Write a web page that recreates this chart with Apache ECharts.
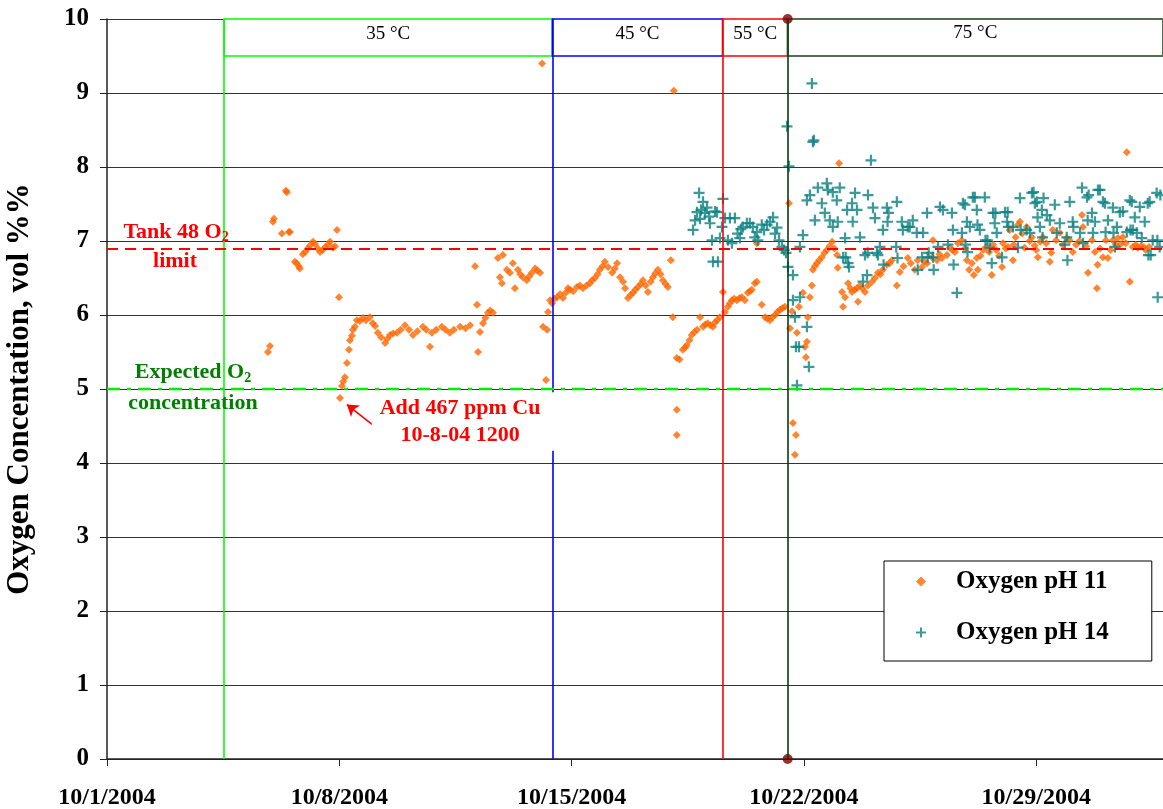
<!DOCTYPE html>
<html><head><meta charset="utf-8">
<script src="https://cdn.jsdelivr.net/npm/echarts@6/dist/echarts.min.js"></script>
<style>html,body{margin:0;padding:0;background:#fff}#c{width:1163px;height:809px}</style>
</head><body><div id="c"></div><script>
// ---- data (x = days since 10/1/2004 00:00, y = vol %) ----
const xTickLabels = ['10/1/2004','10/8/2004','10/15/2004','10/22/2004','10/29/2004'];
const xMaxDay = 31.82;
const phaseLabels = ['35 °C','45 °C','55 °C','75 °C'];
const phaseBounds = [3.53, 13.42, 18.55, 20.51, 31.82];
const tankLimit = 6.9;
const expectedO2 = 5.0;
const cuAddArrow = [[8.19, 4.45], [7.23, 4.79]];

const oxygenPH11 = [
[4.85,5.50],[4.91,5.58],[5.00,7.26],[5.03,7.30],[5.27,7.10],[5.39,7.68],[5.42,7.66],[5.48,7.12],[5.51,7.12],[5.66,6.72],[5.72,6.70],[5.78,6.66],[5.81,6.63],[5.90,6.82],[5.97,6.85],[6.05,6.90],[6.12,6.94],[6.21,6.99],[6.27,6.96],[6.35,6.90],[6.42,6.85],[6.50,6.88],[6.58,6.92],[6.66,6.95],[6.72,6.99],[6.81,6.91],[6.87,6.93],[6.93,7.15],[6.99,6.24],
[7.02,4.88],[7.08,5.04],[7.12,5.10],[7.17,5.16],[7.23,5.35],[7.29,5.53],[7.32,5.66],[7.38,5.72],[7.41,5.80],[7.47,5.84],[7.53,5.93],[7.62,5.92],[7.71,5.96],[7.80,5.93],[7.92,5.97],[8.01,5.89],[8.08,5.85],[8.16,5.76],[8.26,5.70],[8.38,5.62],[8.45,5.68],[8.53,5.73],[8.62,5.75],[8.74,5.76],[8.85,5.80],[8.98,5.86],[9.10,5.80],[9.22,5.73],[9.35,5.78],[9.52,5.84],[9.62,5.80],[9.73,5.57],[9.79,5.76],[9.92,5.80],[10.09,5.84],[10.20,5.80],[10.33,5.76],[10.45,5.80],[10.64,5.84],[10.80,5.82],[10.94,5.86],
[11.09,6.66],[11.15,6.14],[11.18,5.50],[11.24,5.77],[11.33,5.89],[11.40,5.96],[11.48,6.03],[11.55,6.06],[11.63,6.03],[11.78,6.77],[11.84,6.51],[11.90,6.43],[11.93,6.81],[12.05,6.61],[12.14,6.57],[12.23,6.70],[12.29,6.36],[12.38,6.61],[12.45,6.55],[12.53,6.51],[12.65,6.47],[12.72,6.52],[12.80,6.57],[12.90,6.63],[12.97,6.60],[13.05,6.57],[13.11,9.40],[13.14,5.84],[13.23,5.12],[13.26,5.80],[13.29,6.04],[13.35,6.20],[13.41,6.16],[13.48,6.22],[13.56,6.24],[13.65,6.28],[13.74,6.23],[13.82,6.30],[13.89,6.36],[13.95,6.34],
[14.05,6.32],[14.16,6.38],[14.25,6.40],[14.34,6.36],[14.45,6.40],[14.55,6.43],[14.62,6.47],[14.70,6.50],[14.78,6.55],[14.85,6.61],[14.93,6.66],[15.00,6.72],[15.10,6.65],[15.22,6.57],[15.30,6.63],[15.37,6.70],[15.46,6.51],[15.55,6.45],[15.61,6.36],[15.70,6.23],[15.78,6.27],[15.85,6.30],[15.92,6.34],[16.00,6.38],[16.08,6.42],[16.15,6.47],[16.23,6.40],[16.30,6.31],[16.38,6.45],[16.45,6.51],[16.52,6.56],[16.60,6.61],[16.68,6.55],[16.75,6.47],[16.83,6.42],[16.90,6.38],[16.99,6.74],[17.05,5.97],[17.08,9.03],
[17.17,5.42],[17.17,4.72],[17.17,4.38],[17.25,5.40],[17.35,5.53],[17.42,5.56],[17.47,5.59],[17.55,5.66],[17.62,5.73],[17.70,5.77],[17.78,5.80],[17.87,5.97],[17.96,5.84],[18.03,5.87],[18.10,5.89],[18.18,5.86],[18.26,5.84],[18.32,5.90],[18.38,5.93],[18.47,5.97],[18.56,6.31],[18.62,6.04],[18.71,6.11],[18.77,6.16],[18.83,6.20],[18.90,6.22],[18.98,6.20],[19.06,6.23],[19.13,6.24],[19.22,6.20],[19.31,6.30],[19.37,6.32],[19.43,6.34],[19.52,6.43],[19.58,6.45],[19.58,6.97],[19.73,6.14],[19.83,5.97],[19.90,5.95],[19.98,5.93],[20.05,5.97],[20.13,6.00],[20.20,6.04],[20.28,6.07],[20.35,6.09],[20.43,6.11],
[20.55,7.51],[20.58,5.82],[20.64,6.05],[20.67,4.54],[20.73,4.11],[20.76,4.38],[20.79,5.76],[20.85,6.11],[20.97,6.30],[21.03,5.57],[21.06,5.43],[21.09,5.64],[21.12,5.97],[21.18,6.24],[21.24,6.40],[21.27,6.61],[21.33,6.66],[21.39,6.70],[21.46,6.74],[21.54,6.78],[21.62,6.84],[21.69,6.88],[21.77,6.93],[21.85,6.99],[21.92,6.90],[22.00,6.81],[22.02,6.64],[22.06,8.05],[22.15,6.31],[22.18,6.11],[22.24,6.24],[22.33,6.43],[22.40,6.36],[22.45,6.31],[22.53,6.34],[22.60,6.36],[22.63,6.18],[22.69,6.40],[22.76,6.36],[22.84,6.31],[22.93,6.40],
[23.05,6.45],[23.14,6.50],[23.23,6.57],[23.30,6.55],[23.38,6.61],[23.50,6.68],[23.58,6.70],[23.65,6.74],[23.80,6.40],[23.89,6.58],[24.00,6.66],[24.13,6.77],[24.22,6.70],[24.34,6.61],[24.43,6.74],[24.56,6.65],[24.63,6.72],[24.71,6.70],[24.86,6.78],[24.89,7.01],[25.01,6.74],[25.08,6.82],[25.16,6.77],[25.31,6.81],[25.40,6.91],[25.48,6.88],[25.55,6.85],[25.64,6.97],[25.76,7.01],[25.85,6.90],[25.91,6.74],[25.98,6.61],[26.06,6.70],[26.12,6.54],[26.21,6.77],[26.24,6.61],[26.32,6.80],[26.40,6.88],[26.50,6.92],[26.58,6.85],[26.66,6.54],[26.70,6.95],[26.80,6.88],[26.88,6.80],[26.97,6.65],
[27.00,6.97],[27.08,6.90],[27.15,6.92],[27.20,7.15],[27.30,6.74],[27.32,6.95],[27.38,7.05],[27.45,7.22],[27.51,7.26],[27.58,7.10],[27.65,6.91],[27.71,7.19],[27.80,7.00],[27.87,7.05],[27.95,6.94],[28.00,6.88],[28.05,6.78],[28.12,6.99],[28.20,7.05],[28.30,6.97],[28.41,6.72],[28.45,6.84],[28.50,7.15],[28.60,7.01],[28.71,7.11],[28.80,6.95],[28.92,7.04],[29.00,7.01],[29.10,6.85],[29.20,6.95],[29.30,7.00],[29.38,7.35],[29.41,7.19],[29.50,6.93],[29.56,6.57],[29.68,7.01],[29.77,6.85],[29.83,6.36],[29.85,6.68],[29.92,6.90],
[30.01,6.78],[30.10,7.01],[30.16,6.77],[30.24,6.88],[30.31,7.01],[30.40,6.95],[30.46,7.04],[30.55,6.96],[30.61,7.05],[30.70,6.97],[30.73,8.20],[30.82,6.45],[30.91,6.92],[31.00,6.95],[31.06,6.91],[31.15,6.93],[31.24,6.92],[31.30,6.88],[31.40,6.92]
];

const oxygenPH14 = [
[17.66,7.15],[17.72,7.28],[17.78,7.39],[17.84,7.65],[17.87,7.30],[17.90,7.42],[17.96,7.53],[18.02,7.38],[18.08,7.45],[18.14,7.33],[18.17,7.24],[18.23,7.01],[18.26,6.72],[18.32,7.40],[18.38,7.39],[18.41,6.72],[18.47,7.04],[18.53,7.19],[18.56,7.57],[18.62,7.31],[18.71,7.01],[18.77,7.31],[18.83,6.97],[18.92,7.31],[19.00,7.10],[19.07,7.04],[19.10,7.16],[19.16,7.19],[19.28,7.24],[19.37,7.24],[19.46,7.19],[19.52,7.05],[19.58,7.12],[19.61,7.01],[19.73,7.22],[19.80,7.15],[19.89,7.22],[19.98,7.26],[20.07,7.32],[20.13,7.10],[20.19,7.18],[20.25,7.01],[20.34,6.92],[20.40,6.88],[20.46,6.84],
[20.49,8.55],[20.52,6.65],[20.55,8.01],[20.67,6.54],[20.67,6.20],[20.73,5.97],[20.76,5.57],[20.79,5.05],[20.85,5.57],[20.88,6.24],[20.88,6.92],[20.97,7.08],[21.09,5.84],[21.09,7.55],[21.15,5.30],[21.18,7.62],[21.24,9.13],[21.27,8.34],[21.30,8.36],[21.33,7.28],[21.42,7.72],[21.54,7.51],[21.63,7.38],[21.69,7.78],[21.72,7.69],[21.78,7.28],[21.87,7.66],[21.87,7.19],[21.99,7.55],[22.02,7.26],[22.08,7.72],[22.18,6.78],[22.24,7.04],[22.26,6.78],[22.30,7.42],[22.33,6.70],[22.36,6.65],[22.45,7.51],[22.47,7.26],[22.54,7.65],[22.60,7.42],[22.69,7.05],[22.78,6.45],[22.84,6.81],[22.90,6.54],[22.92,6.84],[22.93,7.62],
[23.02,8.09],[23.08,7.45],[23.14,7.31],[23.20,6.84],[23.23,6.81],[23.29,6.92],[23.38,7.15],[23.40,6.68],[23.50,7.45],[23.52,7.26],[23.55,7.38],[23.80,7.53],[23.78,6.92],[23.82,6.77],[23.95,7.26],[23.98,7.15],[24.13,7.19],[24.19,7.19],[24.28,7.28],[24.40,7.11],[24.43,6.61],[24.56,6.78],[24.59,7.11],[24.71,7.38],[24.73,6.78],[24.76,6.84],[24.89,6.78],[24.91,6.61],[25.04,6.92],[25.10,7.46],[25.19,7.42],[25.34,6.95],[25.46,7.38],[25.49,7.15],[25.51,6.68],[25.61,6.30],[25.76,7.11],[25.79,7.51],[25.85,7.49],[25.87,6.95],[25.91,7.26],[25.93,6.85],
[26.00,7.19],[26.09,7.59],[26.15,7.59],[26.21,7.42],[26.23,7.22],[26.30,7.15],[26.45,7.59],[26.47,7.01],[26.53,7.01],[26.60,6.91],[26.66,6.70],[26.70,7.38],[26.77,7.38],[26.75,7.24],[26.81,7.11],[26.97,6.78],[27.06,7.39],[27.14,7.39],[27.12,7.26],[27.16,7.19],[27.30,7.19],[27.45,6.91],[27.51,7.58],[27.53,7.15],[27.71,7.15],[27.81,7.11],[27.87,7.65],[27.92,7.66],[27.96,7.51],[28.02,7.53],[28.04,7.32],[28.11,7.19],[28.17,7.42],[28.19,7.05],[28.22,7.58],[28.32,7.35],[28.41,7.28],[28.56,7.49],[28.62,7.11],[28.71,7.24],[28.86,6.95],[28.92,7.05],[28.94,6.74],
[29.01,7.53],[29.10,7.26],[29.12,7.19],[29.32,7.11],[29.38,7.72],[29.41,6.97],[29.53,7.59],[29.55,7.28],[29.58,7.62],[29.68,7.38],[29.71,7.11],[29.77,7.26],[29.86,7.69],[29.92,7.69],[30.01,7.53],[30.07,7.51],[30.09,7.12],[30.16,7.28],[30.31,7.45],[30.33,7.11],[30.37,6.92],[30.43,7.19],[30.52,7.39],[30.61,7.40],[30.73,7.12],[30.82,7.55],[30.84,7.15],[30.88,7.53],[30.91,7.15],[30.97,7.32],[31.03,7.11],[31.12,7.46],[31.18,7.04],[31.27,7.26],[31.36,7.51],[31.38,6.81],[31.42,7.53],[31.45,6.81],[31.51,7.01],[31.63,7.65],[31.65,7.01],[31.66,6.24],[31.72,6.92],[31.74,7.62]
];

// ---- styling ----
const FONT = 'Liberation Serif';
const phaseColors = ['#00ff00', '#0000ff', '#ff0000', '#0b3d0b'];
const phaseBoxBorders = ['#00ff00', '#0000ff', '#ff0000', '#4f6f4f'];
const plusPath = 'path://M4,0H6V4H10V6H6V10H4V6H0V4H4Z';

const chart = echarts.init(document.getElementById('c'), null, {renderer: 'canvas'});

const option = {
  animation: false,
  backgroundColor: '#fff',
  grid: {left: 107, right: 0, top: 19, bottom: 50, containLabel: false, outerBoundsMode: 'none'},
  xAxis: {
    type: 'value', min: 0, max: xMaxDay, interval: 7,
    axisLine: {show: true, lineStyle: {color: '#222', width: 1.5}},
    axisTick: {show: true, length: 7, lineStyle: {color: '#222'}},
    splitLine: {show: false},
    axisLabel: {
      margin: 27, showMaxLabel: false,
      color: '#000', fontFamily: FONT, fontWeight: 'bold', fontSize: 24,
      formatter: v => { const i = Math.round(v / 7); return (Math.abs(v - i * 7) < 1e-6 && xTickLabels[i]) ? xTickLabels[i] : ''; }
    }
  },
  yAxis: {
    type: 'value', min: 0, max: 10, interval: 1,
    name: 'Oxygen Concentation, vol %%', nameLocation: 'middle', nameGap: 72, nameRotate: 90,
    nameTextStyle: {color: '#000', fontFamily: FONT, fontWeight: 'bold', fontSize: 31},
    axisLine: {show: true, lineStyle: {color: '#222', width: 1.5}},
    axisTick: {show: true, length: 7, lineStyle: {color: '#222'}},
    splitLine: {show: true, lineStyle: {color: '#333', width: 1}},
    axisLabel: {margin: 18, color: '#000', fontFamily: FONT, fontWeight: 'bold', fontSize: 25}
  },
  legend: {
    orient: 'vertical', left: 884, top: 561,
    backgroundColor: '#fff', borderColor: '#000', borderWidth: 1,
    padding: [8, 43, 16, 32], itemGap: 26, itemWidth: 10, itemHeight: 10,
    textStyle: {color: '#000', fontFamily: FONT, fontWeight: 'bold', fontSize: 25, padding: [0, 0, 0, 25]},
    data: [{name: 'Oxygen pH 11', icon: 'diamond'}, {name: 'Oxygen pH 14', icon: plusPath}]
  },
  series: [
    {
      name: 'refs', type: 'scatter', silent: true, clip: false, z: 1,
      data: [[phaseBounds[3], 0], [phaseBounds[3], 10]],
      symbol: 'circle', symbolSize: 10, itemStyle: {color: '#800000'},
      markArea: {
        silent: true,
        label: {show: true, position: 'insideTop', distance: 6, color: '#000', fontFamily: FONT, fontSize: 19},
        data: phaseLabels.map((lab, i) => [
          {name: lab, xAxis: phaseBounds[i], yAxis: 9.5, itemStyle: {color: '#fff', borderColor: phaseBoxBorders[i], borderWidth: i === 3 ? 2 : 1.5}},
          {xAxis: phaseBounds[i + 1], yAxis: 10}
        ])
      },
      markLine: {
        silent: true, symbol: 'none', label: {show: false},
        data: [
          ...phaseBounds.slice(0, 4).map((b, i) => ({xAxis: b, lineStyle: {color: phaseColors[i], width: 1.6, type: 'solid'}})),
          {yAxis: tankLimit, lineStyle: {color: '#ff0000', width: 2, type: [11, 7]}},
          {yAxis: expectedO2, lineStyle: {color: '#00ee00', width: 2.4, type: [13, 7, 4, 7]}},
          [
            {coord: cuAddArrow[0], symbol: 'none', lineStyle: {color: '#ff0000', width: 1.6, type: 'solid'}},
            {coord: cuAddArrow[1], symbol: 'arrow', symbolSize: 11}
          ]
        ]
      }
    },
    {
      name: 'Oxygen pH 11', type: 'scatter', z: 3,
      data: oxygenPH11, symbol: 'diamond', symbolSize: 8,
      itemStyle: {color: '#ff6600'}
    },
    {
      name: 'Oxygen pH 14', type: 'scatter', z: 4,
      data: oxygenPH14, symbol: plusPath, symbolSize: 11,
      itemStyle: {color: '#0a7f7f'}
    }
  ]
};
chart.setOption(option);

// ---- annotations, positioned through the chart's own scales ----
const P = (d, v) => chart.convertToPixel({xAxisIndex: 0, yAxisIndex: 0}, [d, v]);
const boxTL = P(7.98, 4.97), boxBR = P(13.56, 4.18);
const cu1 = P(10.64, 4.74), cu2 = P(10.64, 4.38);
const tank1 = P(2.08, 7.12), tank2 = P(2.05, 6.72);
const exp1 = P(2.59, 5.22), exp2 = P(2.59, 4.80);
const bold = sz => 'bold ' + sz + 'px "' + FONT + '"';
const subRich = (color) => ({
  a: {fontFamily: FONT, fontWeight: 'bold', fontSize: 22, fill: color, color: color, lineHeight: 25},
  s: {fontFamily: FONT, fontWeight: 'bold', fontSize: 14, fill: color, color: color, lineHeight: 25, verticalAlign: 'bottom', padding: [10, 0, 0, 0]}
});
chart.setOption({
  graphic: [
    {type: 'rect', z: 100, silent: true, shape: {x: boxTL[0], y: boxTL[1] + 1, width: boxBR[0] - boxTL[0], height: boxBR[1] - boxTL[1]}, style: {fill: '#fff'}},
    {type: 'text', z: 101, silent: true, x: cu1[0], y: cu1[1], style: {text: 'Add 467 ppm Cu', font: bold(22), fill: '#ff0000', align: 'center', verticalAlign: 'middle'}},
    {type: 'text', z: 101, silent: true, x: cu2[0], y: cu2[1], style: {text: '10-8-04 1200', font: bold(22), fill: '#ff0000', align: 'center', verticalAlign: 'middle'}},
    {type: 'text', z: 101, silent: true, x: tank1[0], y: tank1[1], style: {text: '{a|Tank 48 O}{s|2}', rich: subRich('#ff0000'), align: 'center', verticalAlign: 'middle'}},
    {type: 'text', z: 101, silent: true, x: tank2[0], y: tank2[1], style: {text: 'limit', font: bold(22), fill: '#ff0000', align: 'center', verticalAlign: 'middle'}},
    {type: 'text', z: 101, silent: true, x: exp1[0], y: exp1[1], style: {text: '{a|Expected O}{s|2}', rich: subRich('#008000'), align: 'center', verticalAlign: 'middle'}},
    {type: 'text', z: 101, silent: true, x: exp2[0], y: exp2[1], style: {text: 'concentration', font: bold(22), fill: '#008000', align: 'center', verticalAlign: 'middle'}}
  ]
});
</script></body></html>
